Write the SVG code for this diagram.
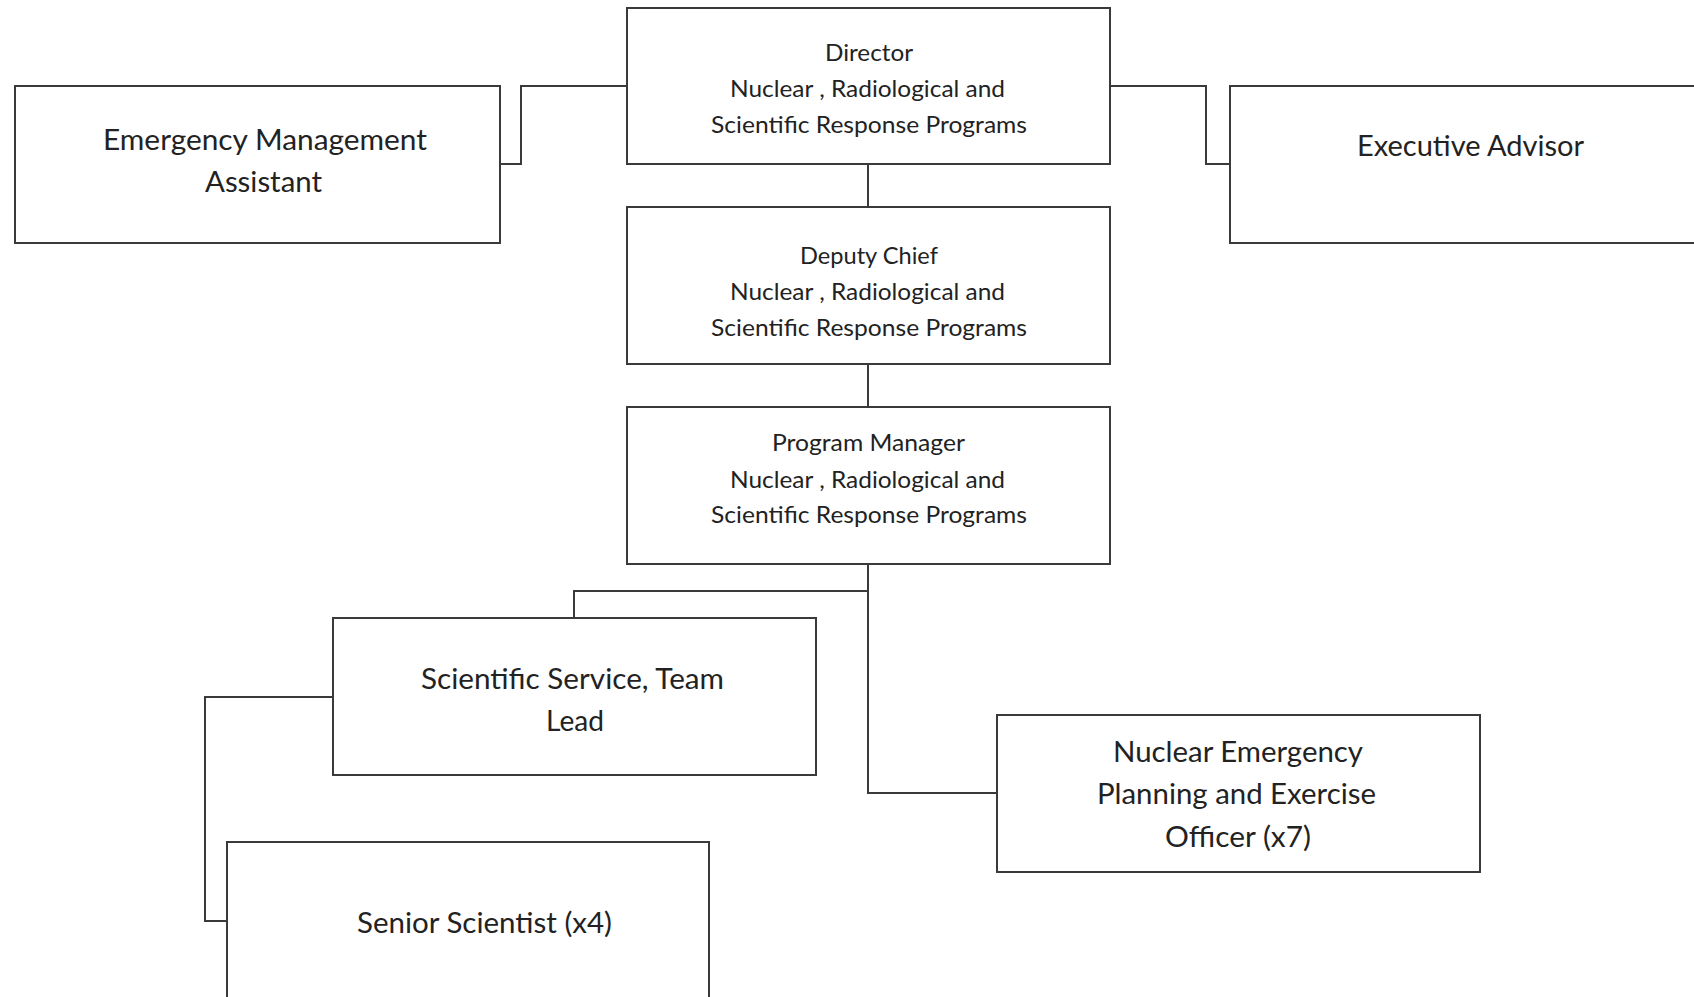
<svg xmlns="http://www.w3.org/2000/svg" width="1694" height="997" viewBox="0 0 1694 997">
<style>
.box{fill:#ffffff;stroke:#3a3a3a;stroke-width:2}
.conn{fill:none;stroke:#3a3a3a;stroke-width:2}
.s{font-family:Lato,"Liberation Sans",sans-serif;font-size:23.5px;fill:#222222}
.b{font-family:Lato,"Liberation Sans",sans-serif;font-size:28.5px;fill:#222222}
</style>
<rect width="1694" height="997" fill="#ffffff"/>
<g id="connectors">
<polyline class="conn" points="627,86 521,86 521,164 500,164"/>
<polyline class="conn" points="1110,86 1206,86 1206,164 1230,164"/>
<line class="conn" x1="868" y1="164" x2="868" y2="207"/>
<line class="conn" x1="868" y1="364" x2="868" y2="407"/>
<polyline class="conn" points="868,564 868,591 574,591 574,618"/>
<polyline class="conn" points="868,591 868,793 997,793"/>
<polyline class="conn" points="333,697 205,697 205,921 227,921"/>
</g>
<g id="director">
<rect class="box" x="627" y="8" width="483" height="156"/>
<text class="s" x="825" y="61" textLength="88" lengthAdjust="spacingAndGlyphs">Director</text>
<text class="s" x="730" y="97" textLength="275" lengthAdjust="spacingAndGlyphs">Nuclear , Radiological and</text>
<text class="s" x="711" y="133" textLength="316" lengthAdjust="spacingAndGlyphs">Scientific Response Programs</text>
</g>
<g id="ema">
<rect class="box" x="15" y="86" width="485" height="157"/>
<text class="b" x="103" y="150" textLength="324" lengthAdjust="spacingAndGlyphs">Emergency Management</text>
<text class="b" x="205" y="192" textLength="117" lengthAdjust="spacingAndGlyphs">Assistant</text>
</g>
<g id="executive-advisor">
<rect class="box" x="1230" y="86" width="482" height="157"/>
<text class="b" x="1357" y="156" textLength="227" lengthAdjust="spacingAndGlyphs">Executive Advisor</text>
</g>
<g id="deputy-chief">
<rect class="box" x="627" y="207" width="483" height="157"/>
<text class="s" x="800" y="264" textLength="138" lengthAdjust="spacingAndGlyphs">Deputy Chief</text>
<text class="s" x="730" y="300" textLength="275" lengthAdjust="spacingAndGlyphs">Nuclear , Radiological and</text>
<text class="s" x="711" y="336" textLength="316" lengthAdjust="spacingAndGlyphs">Scientific Response Programs</text>
</g>
<g id="program-manager">
<rect class="box" x="627" y="407" width="483" height="157"/>
<text class="s" x="772" y="451" textLength="193" lengthAdjust="spacingAndGlyphs">Program Manager</text>
<text class="s" x="730" y="488" textLength="275" lengthAdjust="spacingAndGlyphs">Nuclear , Radiological and</text>
<text class="s" x="711" y="523" textLength="316" lengthAdjust="spacingAndGlyphs">Scientific Response Programs</text>
</g>
<g id="team-lead">
<rect class="box" x="333" y="618" width="483" height="157"/>
<text class="b" x="421" y="689" textLength="303" lengthAdjust="spacingAndGlyphs">Scientific Service, Team</text>
<text class="b" x="546" y="731" textLength="58" lengthAdjust="spacingAndGlyphs">Lead</text>
</g>
<g id="senior-scientist">
<rect class="box" x="227" y="842" width="482" height="160"/>
<text class="b" x="357" y="933" textLength="255" lengthAdjust="spacingAndGlyphs">Senior Scientist (x4)</text>
</g>
<g id="nepeo">
<rect class="box" x="997" y="715" width="483" height="157"/>
<text class="b" x="1113" y="762" textLength="250" lengthAdjust="spacingAndGlyphs">Nuclear Emergency</text>
<text class="b" x="1097" y="804" textLength="279" lengthAdjust="spacingAndGlyphs">Planning and Exercise</text>
<text class="b" x="1165" y="847" textLength="146" lengthAdjust="spacingAndGlyphs">Officer (x7)</text>
</g>
</svg>
